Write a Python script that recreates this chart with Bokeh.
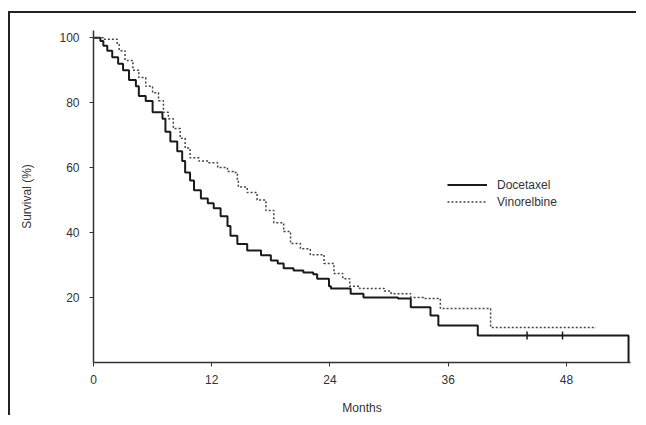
from math import pi
from bokeh.plotting import figure
from bokeh.models import Range1d, FixedTicker, Legend, LegendItem
from bokeh.embed import file_html
from bokeh.resources import INLINE

# Kaplan-Meier steps: (time in months, survival %) where survival becomes value
doc_t = [0, 0.7, 1.0, 1.4, 1.9, 2.5, 3.0, 3.6, 4.3, 4.6, 5.3, 6.0, 7.0, 7.3, 7.8, 8.5,
         9.0, 9.3, 9.8, 10.2, 10.9, 11.6, 12.2, 12.9, 13.6, 13.9, 14.6, 15.6, 17.0, 18.0,
         18.7, 19.3, 20.3, 21.3, 22.3, 22.7, 23.9, 24.1, 26.1, 27.4, 30.9, 32.2, 34.2,
         35.0, 39.0, 54.3]
doc_s = [100, 99, 97.5, 96, 94, 92, 90, 87, 85, 82, 80.5, 77, 75, 71, 68, 65,
         62, 58.5, 56, 53, 50.5, 49, 47.5, 45, 42, 39, 36.5, 34.5, 33, 31.4,
         30.5, 29, 28.3, 27.7, 27.2, 25.8, 23.5, 22.8, 21.2, 20, 19.7, 17, 14.5,
         11.4, 8.3, 0]

vin_t = [0, 1.0, 2.4, 2.6, 3.2, 4.0, 4.6, 5.3, 6.0, 6.6, 7.1, 7.6, 8.1, 8.8, 9.3, 9.8,
         10.7, 11.7, 12.6, 13.6, 14.2, 14.6, 14.7, 15.6, 16.6, 17.5, 18.3, 19.3, 20.0,
         21.0, 22.0, 23.4, 24.4, 25.3, 26.0, 27.0, 29.5, 30.2, 32.2, 33.5, 35.2, 40.3, 51.0]
vin_s = [100, 99.5, 98, 96, 93, 90, 87.7, 85, 83, 80.6, 77, 75, 72, 69, 66, 63,
         62, 61.5, 60, 58.8, 58.5, 56, 54, 52.3, 50, 46.8, 43, 40.3, 36.6,
         35, 33.2, 30.5, 27.4, 25.8, 23.5, 22.8, 22, 21.2, 20, 19.7, 16.6, 10.8, 10.8]

doc_cens_t = [44.0, 47.6]
doc_cens_s = [8.3, 8.3]

x_ticks = [0, 12, 24, 36, 48]
y_ticks = [20, 40, 60, 80, 100]

p = figure(width=628, height=404, output_backend="svg", toolbar_location=None,
           x_range=Range1d(0, 54.5), y_range=Range1d(0, 102.2),
           min_border_left=83, min_border_right=8, min_border_top=17, min_border_bottom=55)
p.margin = (11, 0, 0, 8)
p.styles = {"border-top": "2px solid #222", "border-left": "2px solid #222"}
p.outline_line_color = None
p.grid.visible = False
p.background_fill_color = "white"

font = "Liberation Sans"
for ax in (p.xaxis[0], p.yaxis[0]):
    ax.axis_line_color = "#333"
    ax.axis_line_width = 1.5
    ax.major_tick_line_color = "#333"
    ax.minor_tick_line_color = None
    ax.major_tick_in = 0
    ax.major_tick_out = 4
    ax.major_label_text_font = font
    ax.major_label_text_font_size = "12px"
    ax.major_label_text_color = "#333"
    ax.axis_label_text_font = font
    ax.axis_label_text_font_size = "12px"
    ax.axis_label_text_font_style = "normal"
    ax.axis_label_text_color = "#333"

p.xaxis.ticker = FixedTicker(ticks=x_ticks)
p.yaxis.ticker = FixedTicker(ticks=y_ticks)
p.xaxis.axis_label = "Months"
p.yaxis.axis_label = "Survival (%)"
p.xaxis.major_label_standoff = 8
p.yaxis.major_label_standoff = 10
p.xaxis.axis_label_standoff = 14
p.yaxis.axis_label_standoff = 22

r_doc = p.step(doc_t, doc_s, mode="after", line_color="#1a1a1a", line_width=2)
r_vin = p.step(vin_t, vin_s, mode="after", line_color="#444", line_width=1.5, line_dash="2 2")
p.scatter(doc_cens_t, doc_cens_s, marker="dash", angle=pi / 2, size=8,
          line_color="#1a1a1a", line_width=1.5)

legend = Legend(items=[LegendItem(label="Docetaxel", renderers=[r_doc]),
                       LegendItem(label="Vinorelbine", renderers=[r_vin])],
                location=(354, 153), glyph_width=40, glyph_height=15, label_height=15,
                label_standoff=10, spacing=2, padding=0, margin=0,
                border_line_color=None, background_fill_alpha=0,
                label_text_font=font, label_text_font_size="12px", label_text_color="#333")
p.add_layout(legend)

open("out.html", "w").write(file_html(p, INLINE))
